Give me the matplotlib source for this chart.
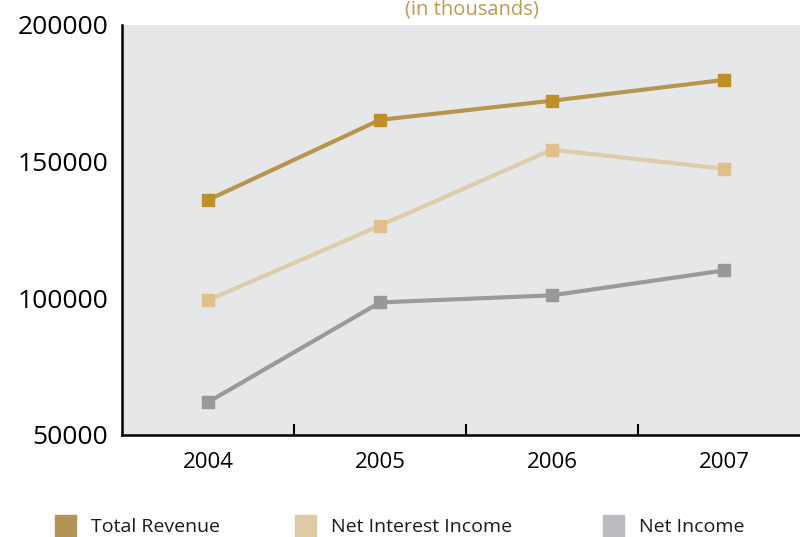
import matplotlib as mpl
mpl.use("Agg")
import matplotlib.pyplot as plt
from matplotlib.patches import Rectangle

plt.rcParams['font.family'] = ['Open Sans', 'DejaVu Sans']

# data (in thousands)
years = ['2004', '2005', '2006', '2007']
total_revenue = [136000, 165300, 172300, 179900]
net_interest_income = [99300, 126600, 154400, 147400]
net_income = [62000, 98500, 101100, 110200]
y_ticks = [50000, 100000, 150000, 200000]
labels = ['Total Revenue', 'Net Interest Income', 'Net Income']

fig = plt.figure(figsize=(8, 5.37), dpi=100)
ax = fig.add_axes([122 / 800, 102 / 537, 688 / 800, 410 / 537])
ax.set_facecolor('#E6E7E8')

x = list(range(len(years)))
ax.plot(x, total_revenue, color='#B8954F', lw=3, marker='s', ms=9,
        mfc='#BF8F2A', mec='#BF8F2A')
ax.plot(x, net_interest_income, color='#DDCDA8', lw=3, marker='s', ms=9,
        mfc='#DFC08A', mec='#DFC08A')
ax.plot(x, net_income, color='#9A9A9C', lw=3, marker='s', ms=9,
        mfc='#98989B', mec='#98989B')

ax.set_xlim(-0.5, 3.5)
ax.set_ylim(50000, 200000)
ax.set_xticks(x)
ax.set_xticklabels(years, fontsize=16)
ax.set_xticks([0.5, 1.5, 2.5], minor=True)
ax.tick_params(axis='x', which='major', length=0, pad=12)
ax.tick_params(axis='x', which='minor', direction='in', length=8, width=1.5)
ax.set_yticks(y_ticks)
ax.set_yticklabels([str(v) for v in y_ticks], fontsize=19)
ax.tick_params(axis='y', length=0, pad=10)

for s in ['top', 'right']:
    ax.spines[s].set_visible(False)
for s in ['left', 'bottom']:
    ax.spines[s].set_linewidth(1.8)

# title above the plot
fig.text(0.59, 1.0, '(in thousands)', color='#BF9A4F', fontsize=14.5,
         ha='center', va='top')

# legend drawn by hand along the bottom
leg_colors = ['#B39456', '#DCCBA5', '#BABBBE']
leg_x = [55, 295, 603]
for lx, c, lab in zip(leg_x, leg_colors, labels):
    fig.add_artist(Rectangle((lx / 800, -1 / 537), 21 / 800, 23 / 537,
                             transform=fig.transFigure, color=c, clip_on=False))
    fig.text((lx + 36) / 800, 5 / 537, lab, fontsize=14, ha='left',
             va='baseline', color='#1a1a1a')

fig.savefig('out.png', dpi=100)
